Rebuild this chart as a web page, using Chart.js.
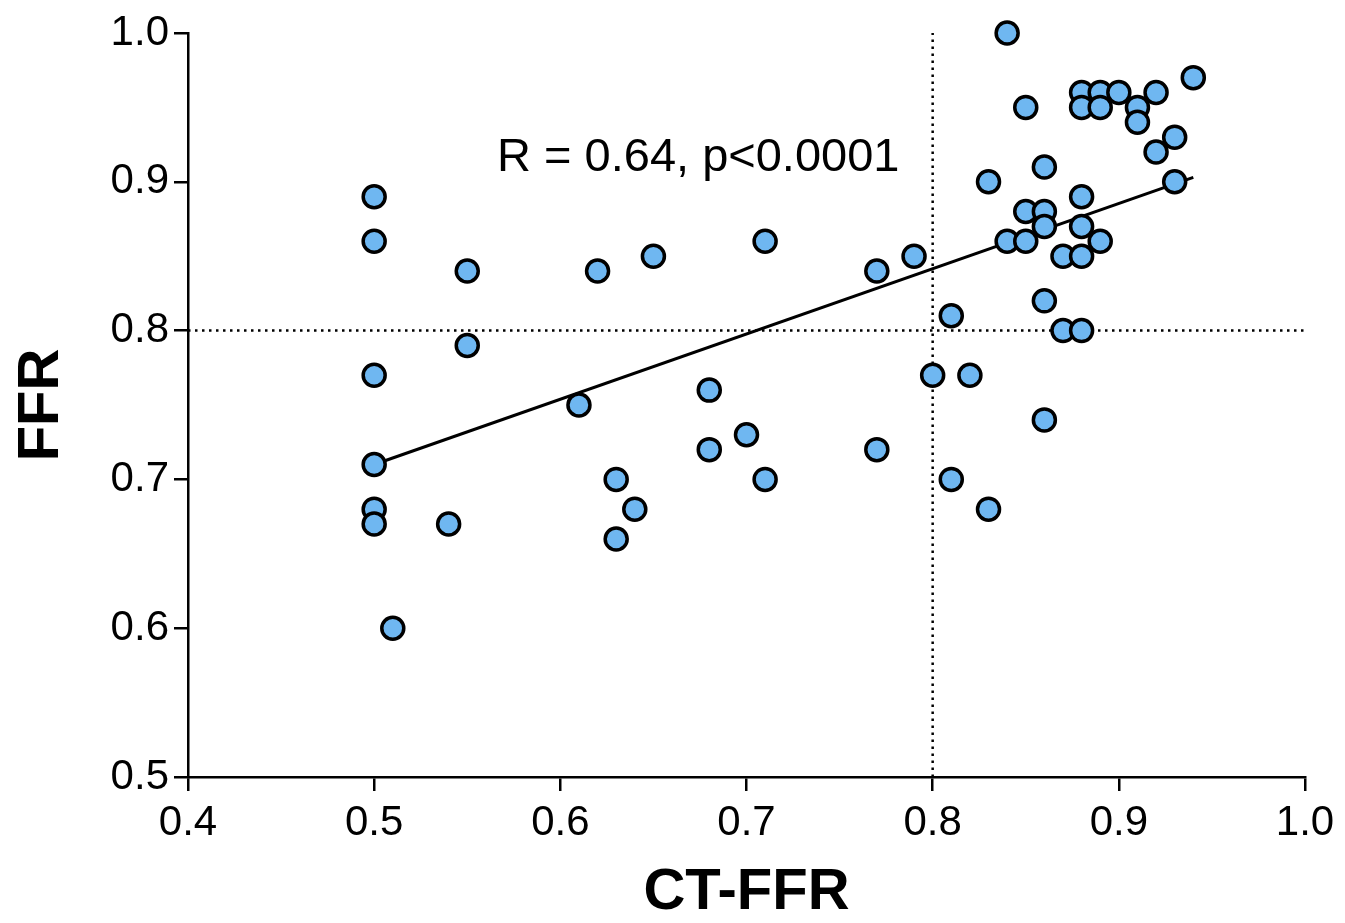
<!DOCTYPE html>
<html lang="en">
<head>
    <meta charset="UTF-8">
    <title>CT-FFR vs FFR</title>
    <script src="https://cdn.jsdelivr.net/npm/chart.js"></script>
    <style>
        html, body {
            margin: 0;
            padding: 0;
            background: #ffffff;
        }
        #chart-box {
            width: 1345px;
            height: 923px;
        }
    </style>
</head>
<body>
    <div id="chart-box">
        <canvas id="ffr-chart" width="1345" height="923"></canvas>
    </div>

    <script>
        // Per-lesion measurements
        const ctFfr = [
            0.84, 0.85, 0.88, 0.89, 0.90, 0.92, 0.88, 0.89, 0.91, 0.91, 0.94, 0.93, 0.92, 0.86, 0.93, 0.83, 0.88,
            0.85, 0.86, 0.86, 0.88, 0.84, 0.85, 0.89, 0.87, 0.88, 0.86, 0.87, 0.88, 0.86,
            0.50, 0.50, 0.55, 0.55, 0.50, 0.50, 0.50, 0.50, 0.54, 0.51,
            0.62, 0.65, 0.71, 0.61, 0.68, 0.70, 0.68, 0.71, 0.63, 0.64, 0.63,
            0.77, 0.79, 0.77, 0.81, 0.80, 0.82, 0.81, 0.83
        ];
        const ffr = [
            1.00, 0.95, 0.96, 0.96, 0.96, 0.96, 0.95, 0.95, 0.95, 0.94, 0.97, 0.93, 0.92, 0.91, 0.90, 0.90, 0.89,
            0.88, 0.88, 0.87, 0.87, 0.86, 0.86, 0.86, 0.85, 0.85, 0.82, 0.80, 0.80, 0.74,
            0.89, 0.86, 0.84, 0.79, 0.77, 0.71, 0.68, 0.67, 0.67, 0.60,
            0.84, 0.85, 0.86, 0.75, 0.76, 0.73, 0.72, 0.70, 0.70, 0.68, 0.66,
            0.84, 0.85, 0.72, 0.81, 0.77, 0.77, 0.70, 0.68
        ];

        // Fitted line end points
        const fitX = [0.50, 0.94];
        const fitY = [0.710, 0.903];

        // Cut-off value for both methods
        const cutoff = 0.8;

        // Axis ranges and tick labels
        const xTicks = ['0.4', '0.5', '0.6', '0.7', '0.8', '0.9', '1.0'];
        const yTicks = ['0.5', '0.6', '0.7', '0.8', '0.9', '1.0'];

        const statText = 'R = 0.64, p<0.0001';
        const statAt = { x: 0.566, y: 0.916 };

        const fontFamily = '"Liberation Sans", Arial, Helvetica, sans-serif';
        const xMin = parseFloat(xTicks[0]), xMax = parseFloat(xTicks[xTicks.length - 1]);
        const yMin = parseFloat(yTicks[0]), yMax = parseFloat(yTicks[yTicks.length - 1]);

        const points = ctFfr.map((x, i) => ({ x: x, y: ffr[i] }));
        const fitLine = fitX.map((x, i) => ({ x: x, y: fitY[i] }));
        const vCut = [{ x: cutoff, y: yMin }, { x: cutoff, y: yMax }];
        const hCut = [{ x: xMin, y: cutoff }, { x: xMax, y: cutoff }];

        // Writes the correlation text in data coordinates
        const statLabel = {
            id: 'statLabel',
            afterDatasetsDraw(chart) {
                const ctx = chart.ctx;
                const px = chart.scales.x.getPixelForValue(statAt.x);
                const py = chart.scales.y.getPixelForValue(statAt.y);
                ctx.save();
                ctx.font = '47px ' + fontFamily;
                ctx.fillStyle = '#000';
                ctx.textAlign = 'left';
                ctx.textBaseline = 'middle';
                ctx.fillText(statText, px, py);
                ctx.restore();
            }
        };

        const axisLine = {
            color: '#000',
            width: 2.5
        };
        const axisGrid = {
            drawOnChartArea: false,
            drawTicks: true,
            tickLength: 14,
            color: '#000',
            lineWidth: 2.5
        };

        new Chart(document.getElementById('ffr-chart'), {
            type: 'scatter',
            data: {
                datasets: [
                    {
                        data: points,
                        clip: false,
                        pointRadius: 11,
                        pointBorderWidth: 3.5,
                        pointBackgroundColor: '#6fb7f1',
                        pointBorderColor: '#000'
                    },
                    {
                        type: 'line',
                        data: fitLine,
                        borderColor: '#000',
                        borderWidth: 3,
                        pointRadius: 0,
                        fill: false
                    },
                    {
                        type: 'line',
                        data: vCut,
                        borderColor: '#000',
                        borderWidth: 2.5,
                        borderDash: [2.5, 4.5],
                        pointRadius: 0,
                        fill: false
                    },
                    {
                        type: 'line',
                        data: hCut,
                        borderColor: '#000',
                        borderWidth: 2.5,
                        borderDash: [2.5, 4.5],
                        pointRadius: 0,
                        fill: false
                    }
                ]
            },
            options: {
                responsive: false,
                animation: false,
                layout: {
                    padding: { top: 33, right: 40, left: 0, bottom: 0 }
                },
                plugins: {
                    legend: { display: false },
                    tooltip: { enabled: false }
                },
                scales: {
                    x: {
                        type: 'linear',
                        min: xMin,
                        max: xMax,
                        border: axisLine,
                        grid: axisGrid,
                        afterFit(scale) { scale.height = 146; },
                        afterBuildTicks(scale) {
                            scale.ticks = xTicks.map(t => ({ value: parseFloat(t) }));
                        },
                        ticks: {
                            color: '#000',
                            padding: 7,
                            maxRotation: 0,
                            font: { family: fontFamily, size: 42 },
                            callback: v => v.toFixed(1)
                        },
                        title: {
                            display: true,
                            text: 'CT-FFR',
                            color: '#000',
                            padding: { top: 0, bottom: 1 },
                            font: { family: fontFamily, size: 58, weight: 'bold', lineHeight: 1 }
                        }
                    },
                    y: {
                        type: 'linear',
                        min: yMin,
                        max: yMax,
                        border: axisLine,
                        grid: axisGrid,
                        afterFit(scale) { scale.width = 188; },
                        afterBuildTicks(scale) {
                            scale.ticks = yTicks.map(t => ({ value: parseFloat(t) }));
                        },
                        ticks: {
                            color: '#000',
                            padding: 5,
                            font: { family: fontFamily, size: 42 },
                            callback: v => v.toFixed(1)
                        },
                        title: {
                            display: true,
                            text: 'FFR',
                            color: '#000',
                            padding: { top: 13, bottom: 0 },
                            font: { family: fontFamily, size: 58, weight: 'bold', lineHeight: 1 }
                        }
                    }
                }
            },
            plugins: [statLabel]
        });
    </script>
</body>
</html>
